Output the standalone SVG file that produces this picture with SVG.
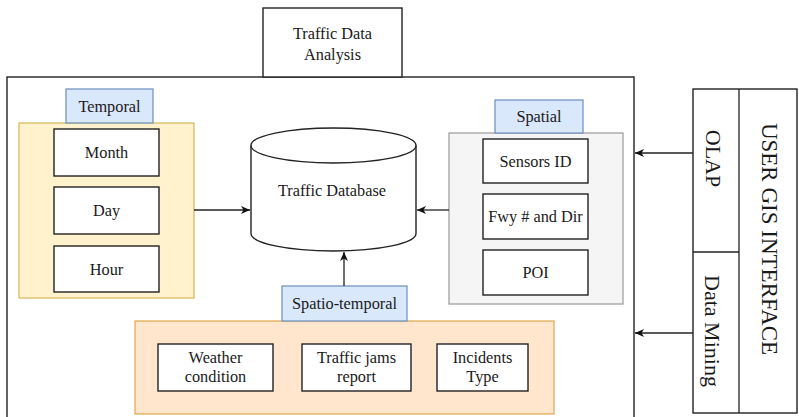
<svg xmlns="http://www.w3.org/2000/svg" width="799" height="417" viewBox="0 0 799 417">
<defs>
<marker id="arr" markerWidth="10" markerHeight="8" refX="9" refY="4" orient="auto" markerUnits="userSpaceOnUse">
<path d="M0,0 L9,4 L0,8 L2.5,4 Z" fill="#111"/>
</marker>
<style>
text{font-family:"Liberation Serif","Times New Roman",serif;fill:#1a1a1a;font-size:16.3px;text-anchor:middle}
.box{fill:#fff;stroke:#222;stroke-width:1.4}
.lbl{fill:#dae8fc;stroke:#6c8ebf;stroke-width:1.2}
.yel{fill:#fff2cc;stroke:#d6b656;stroke-width:1.2}
.gry{fill:#f5f5f5;stroke:#999;stroke-width:1.2}
.org{fill:#ffe6cc;stroke:#e0a84a;stroke-width:1.2}
.ln{fill:none;stroke:#222;stroke-width:1.3}
.big{font-size:22px}
</style>
</defs>
<rect width="799" height="417" fill="#fff"/>

<g id="main">
<rect class="box" x="7" y="77" width="627" height="360" fill="none"/>
</g>
<g id="analysis">
<rect class="box" x="263" y="8" width="139" height="69"/>
<text x="332.5" y="39">Traffic Data</text>
<text x="332.5" y="60">Analysis</text>
</g>

<g id="temporal">
<rect class="yel" x="19" y="123" width="175" height="175"/>
<rect class="lbl" x="66" y="89" width="87" height="34"/>
<text x="109.5" y="111.5">Temporal</text>
<g id="month"><rect class="box" x="54" y="129" width="105" height="47"/><text x="106.5" y="158">Month</text></g>
<g id="day"><rect class="box" x="54" y="187" width="105" height="47"/><text x="106.5" y="216">Day</text></g>
<g id="hour"><rect class="box" x="54" y="246" width="105" height="46"/><text x="106.5" y="274.5">Hour</text></g>
</g>

<g id="database">
<path class="box" d="M251,145.5 V233.5 A82.5,17.5 0 0 0 416,233.5 V145.5 A82.5,17.5 0 0 0 251,145.5 Z"/>
<path class="ln" d="M251,145.5 A82.5,17.5 0 0 0 416,145.5"/>
<text x="332" y="196">Traffic Database</text>
</g>

<g id="spatial">
<rect class="gry" x="449" y="133" width="174" height="171"/>
<rect class="lbl" x="495" y="100" width="88" height="33"/>
<text x="539" y="122">Spatial</text>
<g id="sensors"><rect class="box" x="483" y="139" width="105" height="44"/><text x="535.5" y="166.5">Sensors ID</text></g>
<g id="fwy"><rect class="box" x="483" y="194" width="105" height="45"/><text x="535.5" y="222">Fwy # and Dir</text></g>
<g id="poi"><rect class="box" x="483" y="250" width="105" height="45"/><text x="535.5" y="278">POI</text></g>
</g>

<g id="spatiotemporal">
<rect class="org" x="135" y="321" width="419" height="93"/>
<rect class="lbl" x="282" y="286" width="125" height="35"/>
<text x="344.5" y="309">Spatio-temporal</text>
<g id="weather"><rect class="box" x="158" y="344" width="115" height="47"/><text x="215.5" y="363">Weather</text><text x="215.5" y="382">condition</text></g>
<g id="jams"><rect class="box" x="302" y="344" width="109" height="47"/><text x="356.5" y="363">Traffic jams</text><text x="356.5" y="382">report</text></g>
<g id="incidents"><rect class="box" x="437" y="344" width="91" height="47"/><text x="482.5" y="363">Incidents</text><text x="482.5" y="382">Type</text></g>
</g>

<g id="gis">
<rect class="box" x="693" y="89" width="104" height="324"/>
<line class="ln" x1="739" y1="89" x2="739" y2="413"/>
<line class="ln" x1="693" y1="252" x2="739" y2="252"/>
<text class="big" transform="translate(706,158.5) rotate(90)">OLAP</text>
<text class="big" transform="translate(705,331) rotate(90)">Data Mining</text>
<text class="big" style="font-size:23px" transform="translate(762,239) rotate(90)">USER GIS INTERFACE</text>
</g>

<g id="connectors">
<line class="ln" x1="194" y1="210" x2="250" y2="210" marker-end="url(#arr)"/>
<line class="ln" x1="449" y1="210" x2="417" y2="210" marker-end="url(#arr)"/>
<line class="ln" x1="344" y1="286" x2="344" y2="252" marker-end="url(#arr)"/>
<line class="ln" x1="693" y1="153" x2="635" y2="153" marker-end="url(#arr)"/>
<line class="ln" x1="693" y1="333" x2="635" y2="333" marker-end="url(#arr)"/>
</g>
</svg>
